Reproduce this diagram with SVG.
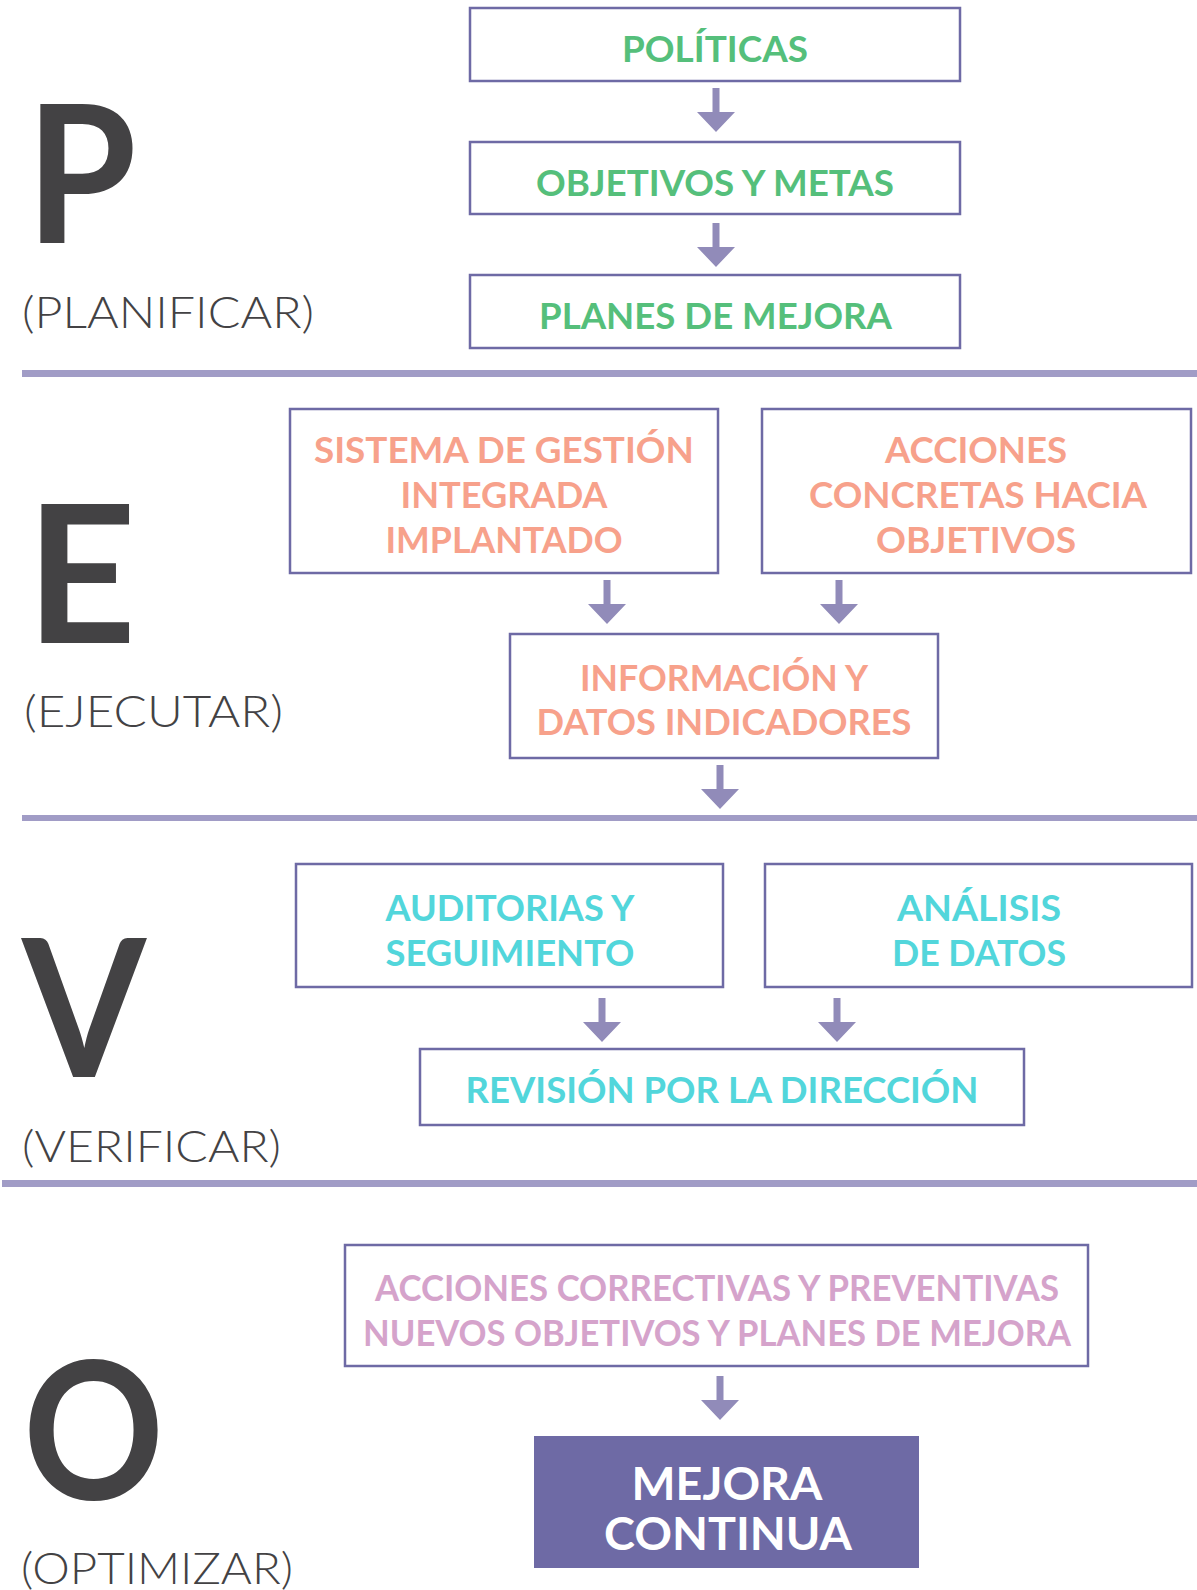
<svg xmlns="http://www.w3.org/2000/svg" xmlns:xlink="http://www.w3.org/1999/xlink" width="1197" height="1590" viewBox="0 0 1197 1590">
<style>
.box{fill:#ffffff;stroke:#6E6AA5;stroke-width:2.5}
.t{font-family:Lato,"Noto Sans",sans-serif;font-weight:700;font-size:36px;text-anchor:middle}
.g{fill:#55BF7B}
.s{fill:#F7A18B}
.c{fill:#52D6DB}
.p{fill:#D5A3CB}
.big{font-family:Lato,"Noto Sans",sans-serif;font-weight:700;font-size:192px;fill:#434244}
.lab{font-family:Lato,"Noto Sans",sans-serif;font-weight:300;font-size:43px;fill:#434244}
.div{fill:#A19CC6}
.arr{fill:#918BB9}
</style>
<defs>
<path id="arr" d="M-3.5,0 H3.5 V24 H19 L0,44 L-19,24 H-3.5 Z"/>
</defs>

<g id="dividers">
<rect class="div" x="22" y="370" width="1175" height="7"/>
<rect class="div" x="22" y="815" width="1175" height="6"/>
<rect class="div" x="2" y="1180" width="1195" height="7"/>
</g>

<g id="phase-labels">
<text class="big" transform="translate(26,243) scale(0.93,1)" x="0" y="0">P</text>
<text class="lab" x="22" y="328" textLength="292" lengthAdjust="spacingAndGlyphs">(PLANIFICAR)</text>
<text class="big" x="26" y="643">E</text>
<text class="lab" x="24" y="727" textLength="259" lengthAdjust="spacingAndGlyphs">(EJECUTAR)</text>
<text class="big" transform="translate(22,1077) scale(0.93,1)" x="0" y="0">V</text>
<text class="lab" x="22" y="1162" textLength="259" lengthAdjust="spacingAndGlyphs">(VERIFICAR)</text>
<text class="big" transform="translate(23,1499) scale(0.91,1)" x="0" y="0">O</text>
<text class="lab" x="21" y="1584" textLength="272" lengthAdjust="spacingAndGlyphs">(OPTIMIZAR)</text>
</g>

<g id="connectors">
<use href="#arr" class="arr" x="716" y="88"/>
<use href="#arr" class="arr" x="716" y="223"/>
<use href="#arr" class="arr" x="607" y="580"/>
<use href="#arr" class="arr" x="839" y="580"/>
<use href="#arr" class="arr" x="720" y="765"/>
<use href="#arr" class="arr" x="602" y="998"/>
<use href="#arr" class="arr" x="837" y="998"/>
<use href="#arr" class="arr" x="720" y="1376"/>
</g>

<g id="n-politicas">
<rect class="box" x="470" y="8" width="490" height="73"/>
<text class="t g" x="715" y="62" textLength="186" lengthAdjust="spacingAndGlyphs">POLÍTICAS</text>
</g>
<g id="n-objetivos">
<rect class="box" x="470" y="142" width="490" height="72"/>
<text class="t g" x="715" y="196" textLength="358" lengthAdjust="spacingAndGlyphs">OBJETIVOS Y METAS</text>
</g>
<g id="n-planes">
<rect class="box" x="470" y="275" width="490" height="73"/>
<text class="t g" x="715.5" y="329" textLength="353" lengthAdjust="spacingAndGlyphs">PLANES DE MEJORA</text>
</g>

<g id="n-sistema">
<rect class="box" x="290" y="409" width="428" height="164"/>
<text class="t s" x="504" y="463" textLength="380" lengthAdjust="spacingAndGlyphs">SISTEMA DE GESTIÓN</text>
<text class="t s" x="504" y="508" textLength="207" lengthAdjust="spacingAndGlyphs">INTEGRADA</text>
<text class="t s" x="504" y="553" textLength="237" lengthAdjust="spacingAndGlyphs">IMPLANTADO</text>
</g>
<g id="n-acciones">
<rect class="box" x="762" y="409" width="429" height="164"/>
<text class="t s" x="976" y="463" textLength="182" lengthAdjust="spacingAndGlyphs">ACCIONES</text>
<text class="t s" x="978" y="508" textLength="338" lengthAdjust="spacingAndGlyphs">CONCRETAS HACIA</text>
<text class="t s" x="976" y="553" textLength="200" lengthAdjust="spacingAndGlyphs">OBJETIVOS</text>
</g>
<g id="n-informacion">
<rect class="box" x="510" y="634" width="428" height="124"/>
<text class="t s" x="724" y="691" textLength="288" lengthAdjust="spacingAndGlyphs">INFORMACIÓN Y</text>
<text class="t s" x="724" y="735" textLength="375" lengthAdjust="spacingAndGlyphs">DATOS INDICADORES</text>
</g>

<g id="n-auditorias">
<rect class="box" x="296" y="864" width="427" height="123"/>
<text class="t c" x="510" y="921" textLength="249" lengthAdjust="spacingAndGlyphs">AUDITORIAS Y</text>
<text class="t c" x="510" y="966" textLength="249" lengthAdjust="spacingAndGlyphs">SEGUIMIENTO</text>
</g>
<g id="n-analisis">
<rect class="box" x="765" y="864" width="427" height="123"/>
<text class="t c" x="979" y="921" textLength="164" lengthAdjust="spacingAndGlyphs">ANÁLISIS</text>
<text class="t c" x="979" y="966" textLength="174" lengthAdjust="spacingAndGlyphs">DE DATOS</text>
</g>
<g id="n-revision">
<rect class="box" x="420" y="1049" width="604" height="76"/>
<text class="t c" x="722" y="1103" textLength="513" lengthAdjust="spacingAndGlyphs">REVISIÓN POR LA DIRECCIÓN</text>
</g>

<g id="n-correctivas">
<rect class="box" x="345" y="1245" width="743" height="121"/>
<text class="t p" x="717" y="1301" textLength="684" lengthAdjust="spacingAndGlyphs">ACCIONES CORRECTIVAS Y PREVENTIVAS</text>
<text class="t p" x="717" y="1346" textLength="708" lengthAdjust="spacingAndGlyphs">NUEVOS OBJETIVOS Y PLANES DE MEJORA</text>
</g>
<g id="n-mejora">
<rect x="534" y="1436" width="385" height="132" fill="#6E6AA5"/>
<text class="t" x="727" y="1500" style="font-size:46px;fill:#ffffff" textLength="191" lengthAdjust="spacingAndGlyphs">MEJORA</text>
<text class="t" x="728" y="1550" style="font-size:46px;fill:#ffffff" textLength="248" lengthAdjust="spacingAndGlyphs">CONTINUA</text>
</g>
</svg>
